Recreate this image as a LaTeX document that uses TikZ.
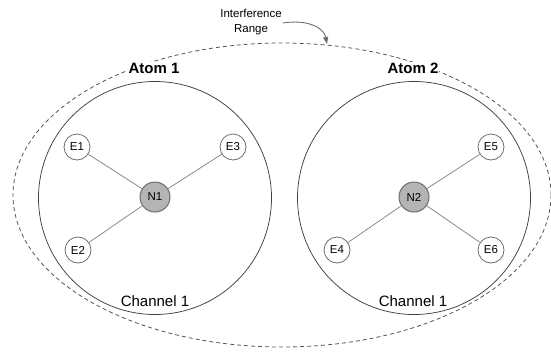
\documentclass[tikz,border=0pt]{standalone}
\usepackage{fontspec}
\setmainfont{Liberation Sans}
\usetikzlibrary{arrows.meta}
\definecolor{ringc}{HTML}{404040}
\definecolor{edgec}{HTML}{8A8A8A}
\definecolor{nfill}{HTML}{B4B4B4}
\definecolor{nline}{HTML}{6E6E6E}
\definecolor{dashc}{HTML}{555555}
\tikzset{
  ring/.style={draw=ringc, line width=0.75pt},
  enode/.style={circle, draw=nline, fill=white, line width=0.8pt, minimum size=26pt, inner sep=0pt, font=\fontsize{11.5}{12}\selectfont},
  nnode/.style={circle, draw=nline, fill=nfill, line width=1pt, minimum size=30pt, inner sep=0pt, font=\fontsize{11.5}{12}\selectfont},
  link/.style={draw=edgec, line width=0.8pt},
  atomlbl/.style={fill=white, inner sep=1pt, font=\bfseries\fontsize{15}{16}\selectfont},
  chanlbl/.style={inner sep=0pt, font=\fontsize{15}{16}\selectfont},
  rangebd/.style={draw=dashc, line width=0.8pt, dash pattern=on 4pt off 3pt},
}
\begin{document}
\begin{tikzpicture}[x=1pt, y=-1pt]
\useasboundingbox (0,0) rectangle (551,354);
% interference range
\draw[rangebd] (282,195) ellipse [x radius=269, y radius=152];
\coordinate (rtip) at (327,44);
% atoms
\draw[ring] (155,198) circle [radius=116.5];
\draw[ring] (414,198) circle [radius=116.5];
% nodes
\node[nnode] (N1) at (155,197) {N1};
\node[nnode] (N2) at (414,197) {N2};
\node[enode] (E1) at (77,147) {E1};
\node[enode] (E3) at (233,147) {E3};
\node[enode] (E2) at (78,250) {E2};
\node[enode] (E5) at (491,147) {E5};
\node[enode] (E4) at (337,250) {E4};
\node[enode] (E6) at (491,250) {E6};
\draw[link] (E1) -- (N1);
\draw[link] (E3) -- (N1);
\draw[link] (E2) -- (N1);
\draw[link] (E5) -- (N2);
\draw[link] (E4) -- (N2);
\draw[link] (E6) -- (N2);
% labels
\node[atomlbl] (A1) at (154,68) {Atom 1};
\node[atomlbl] (A2) at (413,68) {Atom 2};
\node[chanlbl] (C1) at (155,301) {Channel 1};
\node[chanlbl] (C2) at (413,301) {Channel 1};
\node[align=center, inner sep=1pt, font=\fontsize{11.5}{15}\selectfont] (IR) at (251,22) {Interference\\Range};
\draw[draw=nline, line width=0.9pt, -{Triangle[length=7pt,width=5pt]}]
  (IR.east |- 0,23) .. controls (308,19) and (324,28) .. (rtip);
\end{tikzpicture}
\end{document}
